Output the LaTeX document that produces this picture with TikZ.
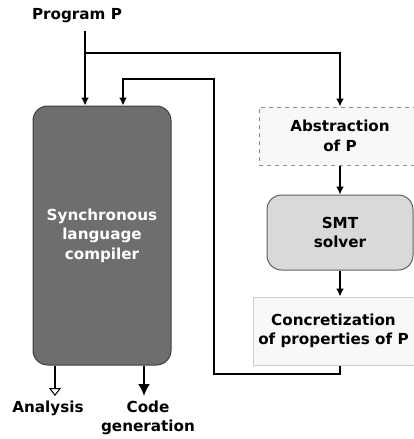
\documentclass[tikz,border=0pt]{standalone}
\usepackage{fontspec}
\setmainfont{DejaVu Sans}
\usetikzlibrary{arrows.meta}

\definecolor{compilerFill}{HTML}{6E6E6E}
\definecolor{compilerEdge}{HTML}{3F3F3F}
\definecolor{solverFill}{HTML}{D9D9D9}
\definecolor{solverEdge}{HTML}{5F5F5F}
\definecolor{paleFill}{HTML}{F8F8F8}
\definecolor{dashEdge}{HTML}{8C8C8C}
\definecolor{paleEdge}{HTML}{CFCFCF}

\begin{document}
\begin{tikzpicture}
[x=0.75pt,y=-0.75pt,
  labelDecorate/.style={font=\fontsize{11.4}{14.6}\selectfont\bfseries,
    align=center,inner sep=0pt},
  boxDecorate/.style={labelDecorate,shape=rectangle,line width=0.75pt},
  arrowStyle/.style={line width=1.5pt,-{Latex[length=6pt,width=6pt]}}]
\useasboundingbox (0,0) rectangle (414,439);
%% nodes or boxes
\node (program) at (77,16) [labelDecorate] {Program P};
\node (compiler) at (102,235.5) [boxDecorate,fill=compilerFill,
  draw=compilerEdge,rounded corners=11pt,minimum width=103.5pt,
  minimum height=194.25pt,text=white] {Synchronous\\language\\compiler};
\node (abstraction) at (340,136) [boxDecorate,fill=paleFill,draw=dashEdge,
  dashed,minimum width=121.5pt,minimum height=43.5pt] {Abstraction\\of P};
\node (smt) at (340,232.5) [boxDecorate,fill=solverFill,draw=solverEdge,
  rounded corners=11pt,minimum width=109.5pt,minimum height=56.25pt]
  {SMT\\solver};
\node (concretization) at (333.5,331) [boxDecorate,fill=paleFill,
  draw=paleEdge,minimum width=120.75pt,minimum height=51pt]
  {Concretization\\of properties of P};
\node (analysis) at (48,408) [labelDecorate] {Analysis};
\node (codegen) at (148,418) [labelDecorate] {Code\\generation};
%% turning points
\coordinate (split) at (85,53);
\coordinate (fbturn) at (214,374);
\coordinate (fbtop) at (214,79);
\coordinate (fbin) at (123,79);
\coordinate (analysisEnd) at (55,396);
\coordinate (codeEnd) at (144,396);
%% edges or lines
\draw[arrowStyle,shorten <=5.5pt] (program.south -| split)
  -- (compiler.north -| split);
\draw[arrowStyle] (split) -| (abstraction.north);
\draw[arrowStyle] (abstraction) -- (smt);
\draw[arrowStyle] (smt.south) -- (smt.south |- concretization.north);
\draw[arrowStyle] (concretization.south -| smt.south) |- (fbturn)
  -- (fbtop) -- (fbin) -- (compiler.north -| fbin);
\draw[line width=1.5pt,-{Triangle[open,length=6pt,width=9pt,line width=0.75pt]}]
  (compiler.south -| analysisEnd) -- (analysisEnd);
\draw[line width=1.5pt,-{Latex[length=9pt,width=9pt]}]
  (compiler.south -| codeEnd) -- (codeEnd);
\end{tikzpicture}
\end{document}
